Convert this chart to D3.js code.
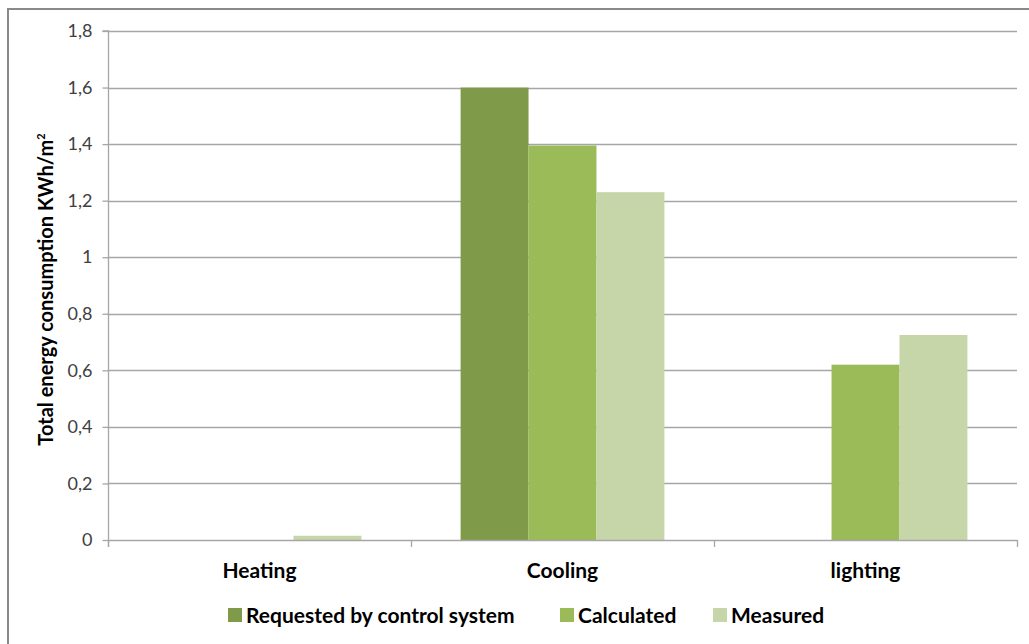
<!DOCTYPE html>
<html>
<head>
<meta charset="utf-8">
<script src="https://cdn.jsdelivr.net/npm/d3@7"></script>
<style>
  html, body { margin: 0; padding: 0; background: #fff; }
  svg { display: block; font-family: "Lato", "Open Sans", sans-serif; }
</style>
</head>
<body>
<svg id="chart" width="1029" height="644"></svg>
<script>
// Energy use per end-use category
const categories = ["Heating", "Cooling", "lighting"];
const seriesNames = ["Requested by control system", "Calculated", "Measured"];
const requested = [0, 1.6, 0];
const calculated = [0, 1.395, 0.62];
const measured = [0.015, 1.23, 0.725];
const yTicks = [0, 0.2, 0.4, 0.6, 0.8, 1, 1.2, 1.4, 1.6, 1.8];
const colors = ["#7F9A48", "#9BBB59", "#C6D6A9"];

const values = [requested, calculated, measured];

const svg = d3.select("#chart");
const W = 1029, H = 644;
const plot = { left: 108, right: 1017, top: 31, bottom: 540 };

// outer frame
svg.append("rect")
  .attr("x", 8).attr("y", 9).attr("width", W + 20).attr("height", H + 20)
  .attr("fill", "none").attr("stroke", "#8a8a8a").attr("stroke-width", 2);

const x = d3.scaleBand().domain(categories).range([plot.left, plot.right]).paddingInner(0).paddingOuter(0);
const xs = d3.scaleBand().domain(d3.range(seriesNames.length)).range([0, x.bandwidth()]).paddingInner(0).paddingOuter(0.73);
const y = d3.scaleLinear().domain([0, 1.8]).range([plot.bottom, plot.top]);

const fmt = d => d3.format(".1~f")(d).replace(".", ",");

// horizontal gridlines
svg.append("g").selectAll("line").data(yTicks.filter(t => t > 0)).join("line")
  .attr("x1", plot.left).attr("x2", plot.right)
  .attr("y1", d => Math.round(y(d)) + 0.5).attr("y2", d => Math.round(y(d)) + 0.5)
  .attr("stroke", "#a6a6a6").attr("stroke-width", 1.3);

// bars
categories.forEach((c, ci) => {
  values.forEach((arr, si) => {
    const v = arr[ci];
    if (v <= 0) return;
    svg.append("rect")
      .attr("x", x(c) + xs(si))
      .attr("y", y(v))
      .attr("width", xs.bandwidth())
      .attr("height", y(0) - y(v))
      .attr("fill", colors[si]);
  });
});

// y axis
const yAxis = d3.axisLeft(y).tickValues(yTicks).tickFormat(fmt).tickSize(6).tickPadding(10);
const gy = svg.append("g").attr("transform", `translate(${plot.left + 0.5},0)`).call(yAxis);
gy.select(".domain").attr("stroke", "#a6a6a6").attr("stroke-width", 1.3).attr("d", `M-6,${plot.top}H0V${plot.bottom + 7}`);
gy.selectAll(".tick line").attr("stroke", "#a6a6a6").attr("stroke-width", 1.3);
gy.selectAll(".tick text").attr("fill", "#404040").style("font-size", "18px").attr("font-family", "Lato, sans-serif");

// x axis
const xAxis = d3.axisBottom(x).tickSize(0).tickPadding(23);
const gx = svg.append("g").attr("transform", `translate(0,${Math.round(y(0)) + 0.5})`).call(xAxis);
gx.select(".domain").attr("stroke", "#a6a6a6").attr("stroke-width", 1.3).attr("d", `M${plot.left},0H${plot.right}`);
gx.selectAll(".tick text").attr("fill", "#000").style("font-size", "21px").style("font-weight", "bold").attr("font-family", "Lato, sans-serif");
// category separator ticks
svg.append("g").selectAll("line").data(d3.range(categories.length + 1)).join("line")
  .attr("x1", i => plot.left + i * x.bandwidth() + 0.5).attr("x2", i => plot.left + i * x.bandwidth() + 0.5)
  .attr("y1", Math.round(y(0))).attr("y2", Math.round(y(0)) + 7)
  .attr("stroke", "#a6a6a6").attr("stroke-width", 1.3);

// y axis title
const yt = svg.append("text")
  .attr("transform", `translate(53,${(plot.top + plot.bottom) / 2 + 4}) rotate(-90)`)
  .attr("text-anchor", "middle")
  .style("font-size", "20px").style("font-weight", "bold").attr("fill", "#000");
yt.append("tspan").text("Total energy consumption  KWh/m");
yt.append("tspan").text("2").attr("dy", -8).style("font-size", "11px");

// legend
const legendItems = [
  { name: seriesNames[0], x: 228 },
  { name: seriesNames[1], x: 560 },
  { name: seriesNames[2], x: 713 }
];
const lg = svg.append("g").attr("transform", "translate(0,615)");
legendItems.forEach((d, i) => {
  lg.append("rect").attr("x", d.x).attr("y", -7).attr("width", 14).attr("height", 14).attr("fill", colors[i]);
  lg.append("text").attr("x", d.x + 18).attr("y", 0).attr("dy", "0.36em")
    .style("font-size", "21px").style("font-weight", "bold").attr("fill", "#000").text(d.name);
});
</script>
</body>
</html>
